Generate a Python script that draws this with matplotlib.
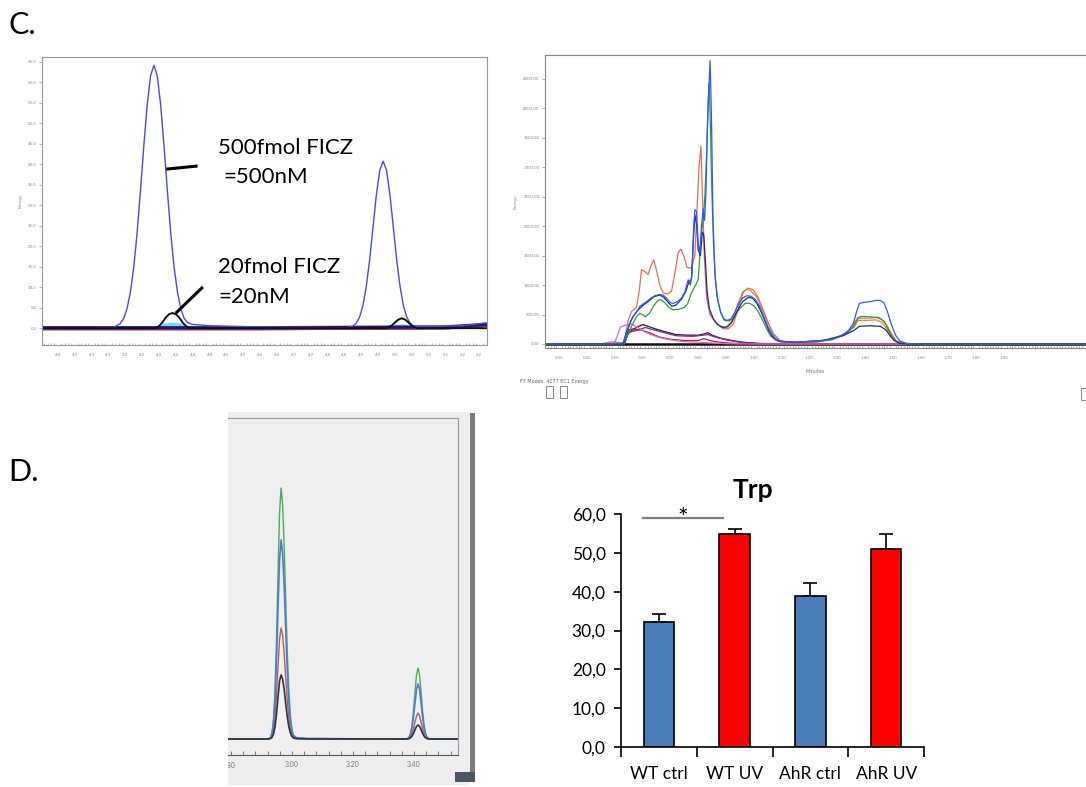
"""Composite chromatography figure: FICZ standards (C) and Trp levels (D)"""
import numpy as np
import matplotlib
matplotlib.use('Agg')
import matplotlib.pyplot as plt
from matplotlib.patches import Rectangle
from matplotlib.transforms import Bbox, TransformedBbox

W, H = 1086, 787

# ---- panel C, left: FICZ standards (minutes vs energy) ----
c1_500_x = [3.953, 4.10, 4.165, 4.185, 4.195, 4.205, 4.215, 4.225, 4.235, 4.245,
            4.255, 4.265, 4.275, 4.285, 4.295, 4.305, 4.315, 4.325, 4.335, 4.345,
            4.355, 4.365, 4.375, 4.385, 4.40, 4.45, 4.55, 4.70, 4.86, 4.875,
            4.885, 4.895, 4.905, 4.915, 4.925, 4.935, 4.945, 4.955, 4.965, 4.975,
            4.985, 4.995, 5.005, 5.015, 5.025, 5.035, 5.045, 5.055, 5.07, 5.20, 5.27]
c1_500_y = [0.0, 0.0, 0.2, 1.1, 2.3, 4.7, 8.7, 14.7, 23.1, 33.4,
            44.4, 54.4, 61.5, 64.1, 61.5, 54.4, 44.4, 33.4, 23.1, 14.7,
            8.7, 4.7, 2.3, 1.4, 0.9, 0.6, 0.4, 0.2, 0.1, 0.5,
            1.2, 2.7, 5.5, 10.2, 16.7, 24.7, 32.6, 38.5, 40.7, 38.5,
            32.6, 24.7, 16.7, 10.2, 5.5, 2.7, 1.2, 0.5, 0.3, 0.6, 1.3]
c1_20_x = [3.953, 4.29, 4.30, 4.31, 4.32, 4.33, 4.34, 4.35, 4.36, 4.37, 4.38, 4.39,
           4.975, 4.99, 5.00, 5.01, 5.02, 5.03, 5.04, 5.05, 5.065, 5.27]
c1_20_y = [0.0, 0.0, 0.5, 1.4, 2.6, 3.4, 3.7, 3.4, 2.6, 1.4, 0.5, 0.0,
           0.0, 0.6, 1.4, 2.1, 2.4, 2.1, 1.4, 0.6, 0.0, 0.0]
c1_cyan_x = [4.29, 4.31, 4.34, 4.37, 4.40, 4.98, 5.00, 5.03, 5.06]
c1_cyan_y = [0.0, 1.2, 1.5, 1.2, 0.0, 0.0, 1.0, 1.0, 0.0]
c1_base_x = [3.953, 4.60, 5.15, 5.27]
c1_base_y = [0.0, 0.0, 0.2, 0.8]
c1_yticks = [0, 5, 10, 15, 20, 25, 30, 35, 40, 45, 50, 55, 60, 65]
c1_xticks = [4.00, 4.05, 4.10, 4.15, 4.20, 4.25, 4.30, 4.35, 4.40, 4.45, 4.50,
             4.55, 4.60, 4.65, 4.70, 4.75, 4.80, 4.85, 4.90, 4.95, 5.00, 5.05,
             5.10, 5.15, 5.20, 5.25]
c1_xlabels = ['4.0', '4.0', '4.1', '4.1', '4.2', '4.2', '4.3', '4.3', '4.4', '4.4',
              '4.5', '4.5', '4.6', '4.6', '4.7', '4.7', '4.8', '4.8', '4.9', '4.9',
              '5.0', '5.0', '5.1', '5.1', '5.2', '5.2']

# ---- panel C, right: samples (minutes vs energy) ----
c2_red_x = [0.25, 0.446, 0.482, 0.50, 0.518, 0.533, 0.548, 0.56, 0.578, 0.588,
            0.596, 0.608, 0.62, 0.632, 0.64, 0.65, 0.662, 0.674, 0.692, 0.704,
            0.716, 0.728, 0.738, 0.748, 0.76, 0.776, 0.788, 0.796, 0.803, 0.81,
            0.815, 0.822, 0.83, 0.842, 0.866, 0.89, 0.908, 0.926, 0.944, 0.962,
            0.98, 0.998, 1.016, 1.034, 1.052, 1.07, 1.094, 1.13, 1.226, 1.286,
            1.322, 1.352, 1.37, 1.388, 1.418, 1.441, 1.459, 1.477, 1.495, 1.513,
            1.537, 1.585, 2.2]
c2_red_y = [0, 0, 30, 40, 10, 10, 400, 550, 620, 900,
            1260, 1230, 1180, 1350, 1430, 1250, 1000, 870, 850, 900,
            1200, 1550, 1610, 1500, 1300, 1290, 1500, 2300, 3000, 3360,
            2600, 1500, 800, 500, 350, 260, 260, 330, 600, 880,
            950, 920, 790, 580, 350, 180, 60, 20, 30, 90,
            160, 270, 420, 440, 440, 450, 420, 330, 180, 50,
            10, 0, 0]
c2_blue_x = [0.25, 0.45, 0.50, 0.53, 0.542, 0.555, 0.566, 0.58, 0.59, 0.602,
             0.615, 0.63, 0.645, 0.66, 0.674, 0.69, 0.70, 0.71, 0.725, 0.74,
             0.752, 0.764, 0.772, 0.778, 0.783, 0.788, 0.794, 0.80, 0.806, 0.812,
             0.818, 0.823, 0.828, 0.833, 0.838, 0.843, 0.848, 0.853, 0.86, 0.868,
             0.88, 0.893, 0.905, 0.918, 0.93, 0.945, 0.96, 0.975, 0.99, 1.005,
             1.02, 1.035, 1.05, 1.065, 1.08, 1.10, 1.15, 1.22, 1.28, 1.31,
             1.34, 1.358, 1.37, 1.38, 1.40, 1.42, 1.44, 1.455, 1.468, 1.48,
             1.495, 1.51, 1.525, 1.55, 1.60, 2.2]
c2_blue_y = [0, 0, 10, 20, 180, 350, 470, 550, 640, 680,
             720, 780, 820, 840, 830, 760, 700, 690, 720, 780,
             880, 1090, 1000, 1200, 1900, 2280, 2250, 1700, 1550, 2000,
             2300, 2100, 2600, 3600, 4300, 4810, 3800, 2200, 1200, 800,
             550, 420, 400, 430, 520, 680, 780, 820, 810, 760,
             650, 480, 300, 170, 80, 40, 30, 50, 80, 130,
             220, 350, 550, 690, 710, 720, 740, 740, 700, 560,
             330, 150, 50, 10, 0, 0]
c2_green_x = [0.25, 0.53, 0.542, 0.56, 0.578, 0.59, 0.60, 0.61, 0.625, 0.64,
              0.655, 0.665, 0.68, 0.695, 0.71, 0.73, 0.75, 0.762, 0.775, 0.785,
              0.794, 0.80, 0.806, 0.812, 0.818, 0.824, 0.83, 0.835, 0.839, 0.843,
              0.848, 0.855, 0.862, 0.87, 0.882, 0.895, 0.91, 0.925, 0.94, 0.955,
              0.97, 0.985, 1.0, 1.015, 1.03, 1.045, 1.06, 1.08, 1.10, 1.20,
              1.28, 1.33, 1.36, 1.375, 1.39, 1.42, 1.45, 1.47, 1.485, 1.50,
              1.52, 1.55, 2.2]
c2_green_y = [0, 0, 100, 300, 460, 520, 500, 460, 520, 650,
              740, 750, 700, 620, 580, 590, 620, 680, 860, 950,
              1030, 1100, 1500, 1900, 2100, 2500, 3200, 4000, 4440, 3900,
              2800, 1700, 1100, 750, 520, 400, 390, 430, 540, 630,
              690, 690, 650, 560, 420, 270, 140, 60, 30, 30,
              70, 160, 300, 450, 470, 460, 450, 380, 230, 100,
              20, 0, 0]
c2_navy_x = [0.25, 0.53, 0.542, 0.56, 0.58, 0.60, 0.62, 0.64, 0.66, 0.675,
             0.69, 0.705, 0.72, 0.74, 0.756, 0.766, 0.776, 0.782, 0.788, 0.795,
             0.80, 0.808, 0.815, 0.82, 0.826, 0.832, 0.84, 0.855, 0.87, 0.89,
             0.905, 0.92, 0.94, 0.96, 0.98, 0.995, 1.01, 1.025, 1.04, 1.055,
             1.07, 1.09, 1.15, 1.25, 1.32, 1.36, 1.38, 1.42, 1.455, 1.475,
             1.49, 1.505, 1.525, 1.56, 2.2]
c2_navy_y = [0, 0, 200, 420, 560, 650, 720, 800, 830, 800,
             720, 640, 660, 760, 900, 1050, 1100, 1700, 2200, 2000,
             1600, 1500, 1900, 1850, 1400, 900, 600, 420, 330, 280,
             290, 360, 560, 720, 790, 780, 700, 560, 390, 220,
             110, 50, 30, 60, 140, 230, 300, 310, 300, 240,
             140, 60, 10, 0, 0]
c2_orange_x = [0.88, 0.90, 0.92, 0.94, 0.96, 0.975, 0.99, 1.01, 1.03, 1.05,
               1.07, 1.09, 1.12, 1.25, 1.32, 1.36, 1.375, 1.40, 1.44, 1.46,
               1.48, 1.50, 1.52, 1.55, 2.2]
c2_orange_y = [290, 290, 380, 650, 880, 930, 900, 800, 600, 370,
               180, 60, 20, 60, 150, 280, 400, 400, 410, 370,
               250, 90, 20, 0, 0]
c2_pink_x = [0.25, 0.49, 0.50, 0.51, 0.52, 0.54, 0.56, 0.575, 0.59, 0.61,
             0.63, 0.66, 0.70, 0.75, 0.80, 0.84, 0.90, 1.0, 2.2]
c2_pink_y = [0, 0, 30, 150, 290, 320, 340, 300, 260, 200,
             160, 110, 70, 40, 30, 20, 5, 0, 0]
c2_maroon_x = [0.25, 0.53, 0.545, 0.56, 0.58, 0.60, 0.63, 0.66, 0.70, 0.75,
               0.80, 0.82, 0.835, 0.86, 0.90, 0.95, 1.0, 2.2]
c2_maroon_y = [0, 0, 150, 230, 250, 230, 180, 120, 80, 60,
               60, 90, 70, 40, 20, 5, 0, 0]
c2_purple_x = [0.25, 0.535, 0.55, 0.58, 0.61, 0.64, 0.68, 0.72, 0.78, 0.82,
               0.835, 0.86, 0.90, 0.95, 1.02, 1.08, 2.2]
c2_purple_y = [0, 0, 200, 230, 280, 240, 190, 140, 130, 150,
               160, 120, 70, 30, 5, 0, 0]
c2_black_x = [0.25, 0.535, 0.55, 0.57, 0.60, 0.62, 0.65, 0.68, 0.72, 0.76,
              0.80, 0.82, 0.835, 0.85, 0.88, 0.92, 0.96, 1.02, 1.08, 2.2]
c2_black_y = [0, 0, 240, 260, 330, 300, 250, 210, 160, 150,
              150, 170, 190, 150, 100, 60, 30, 10, 0, 0]
c2_yticks = [0, 500, 1000, 1500, 2000, 2500, 3000, 3500, 4000, 4500]
c2_xticks = [0.30, 0.40, 0.50, 0.60, 0.70, 0.80, 0.90, 1.00, 1.10, 1.20, 1.30,
             1.40, 1.50, 1.60, 1.70, 1.80, 1.90]

# ---- panel D, left: Trp chromatogram (minutes vs intensity, shared grid) ----
d1_x = [2.79, 2.92, 2.929, 2.934, 2.939, 2.944, 2.949, 2.954, 2.959, 2.964,
        2.969, 2.974, 2.979, 2.984, 2.989, 2.994, 2.999, 3.004, 3.014, 3.05,
        3.37, 3.378, 3.383, 3.388, 3.393, 3.398, 3.403, 3.408, 3.413, 3.418,
        3.423, 3.428, 3.433, 3.438, 3.443, 3.448, 3.456, 3.544]
d1_green = [0, 0, 1.5, 6, 19, 48, 99, 166, 226, 251,
            235, 195, 141, 90, 51, 25, 11, 4, 1.5, 0.5,
            0, 0.4, 1.7, 5.4, 13.6, 28, 47, 64, 71, 64,
            47, 28, 13.6, 5.4, 1.7, 0.4, 0, 0]
d1_blue = [0, 0, 1.2, 4.8, 15, 38, 79, 132, 179, 199,
           186, 155, 112, 71, 40, 20, 9, 3, 1.2, 0.4,
           0, 0.3, 1.3, 4.2, 10.5, 22, 36, 50, 55, 50,
           36, 22, 10.5, 4.2, 1.3, 0.3, 0, 0]
d1_brown = [0, 0, 0.7, 2.7, 8.4, 21, 44, 73, 100, 111,
            104, 86, 62, 40, 23, 11, 5, 1.8, 0.6, 0.2,
            0, 0.1, 0.6, 2, 5, 10, 17, 23, 26, 23,
            17, 10, 5, 2, 0.6, 0.1, 0, 0]
d1_black = [0, 0, 0.4, 1.5, 4.8, 12, 25, 42, 58, 64,
            60, 50, 36, 23, 13, 6.4, 2.8, 1, 0.3, 0.1,
            0, 0.1, 0.3, 1.1, 2.7, 5.5, 9.3, 12.6, 14, 12.6,
            9.3, 5.5, 2.7, 1.1, 0.3, 0.1, 0, 0]
d1_xticks = [3.00, 3.20, 3.40]

# ---- panel D, right: Trp bar chart ----
trp_groups = ['WT ctrl', 'WT UV', 'AhR ctrl', 'AhR UV']
trp_mean = [32.1, 54.9, 38.9, 51.1]
trp_err = [2.2, 1.2, 3.4, 3.8]
trp_colors = ['#4a7ebb', '#ff0000', '#4a7ebb', '#ff0000']
trp_yticks = [0, 10, 20, 30, 40, 50, 60]
trp_ylabels = ['0,0', '10,0', '20,0', '30,0', '40,0', '50,0', '60,0']


def px_axes(fig, left, top, right, bottom):
    """Adds an axes given by its pixel box on the 1086x787 canvas."""
    rect = [left / W, 1 - bottom / H, (right - left) / W, (bottom - top) / H]
    return fig.add_axes(rect)


def fx(px):
    return px / W


def fy(py):
    return 1 - py / H


def px_rect(fig, left, top, right, bottom, **kw):
    """Adds a rectangle given by its pixel box as a figure-level patch."""
    rect = Rectangle((fx(left), fy(bottom)), (right - left) / W,
                     (bottom - top) / H, transform=fig.transFigure, **kw)
    fig.patches.append(rect)
    return rect


def chrom_style(ax, color='#999999'):
    """Thin grey frame and tiny grey labels, like the instrument software."""
    for spine in ax.spines.values():
        spine.set_color(color)
        spine.set_linewidth(0.8)
    ax.tick_params(which='both', colors=color, labelsize=3.2, length=2,
                   width=0.5, pad=2, labelcolor='#8a8a8a')


plt.rcParams['font.family'] = ['Lato', 'DejaVu Sans']
fig = plt.figure(figsize=(10.86, 7.87), dpi=100)

fig.text(fx(8), fy(25), 'C.', fontsize=22, va='center', ha='left')
fig.text(fx(8), fy(472), 'D.', fontsize=22, va='center', ha='left')

# panel C left
ax = px_axes(fig, 42, 57, 487, 345)
ax.plot(c1_base_x, c1_base_y, color='#1c1c78', lw=3.0)
ax.plot(c1_base_x, [v - 0.4 for v in c1_base_y], color='#c03060', lw=0.6)
ax.fill_between(c1_cyan_x, 0, c1_cyan_y, color='#55ccee', alpha=0.8, lw=0)
ax.plot(c1_500_x, c1_500_y, color='#4a4ae0', lw=1.0)
ax.plot(c1_20_x, c1_20_y, color='#111111', lw=1.4)
ax.set_xlim(3.953, 5.273)
ax.set_ylim(-4.1, 66.1)
ax.set_yticks(c1_yticks)
ax.set_yticklabels([f'{v:.1f}' for v in c1_yticks])
ax.set_xticks(c1_xticks)
ax.set_xticklabels(c1_xlabels)
ax.set_xticks(np.arange(3.96, 5.27, 0.01), minor=True)
chrom_style(ax)
ax.tick_params(axis='x', which='minor', direction='in', length=1.5)
ax.tick_params(axis='x', which='major', length=0, pad=6)
ax.set_ylabel('Energy', fontsize=3, color='#888888', labelpad=4,
              family='DejaVu Sans')
ax.plot([4.326, 4.41], [38.8, 39.5], color='black', lw=2.2)
ax.plot([4.353, 4.427], [3.9, 9.8], color='black', lw=2.2)
ax.text(4.475, 43.9, '500fmol FICZ', fontsize=16, va='center')
ax.text(4.49, 36.8, '=500nM', fontsize=16, va='center')
ax.text(4.475, 14.9, '20fmol FICZ', fontsize=16, va='center')
ax.text(4.475, 7.6, '=20nM', fontsize=16, va='center')

# panel C right
ax = px_axes(fig, 545, 55, 1086, 348)
ax.plot([0.25, 2.2], [0, 0], color='#111111', lw=1.8)
traces = [(c2_black_x, c2_black_y, '#222222'),
          (c2_purple_x, c2_purple_y, '#7a2a9a'),
          (c2_maroon_x, c2_maroon_y, '#b02030'),
          (c2_pink_x, c2_pink_y, '#e860d8'),
          (c2_orange_x, c2_orange_y, '#e08a30'),
          (c2_red_x, c2_red_y, '#ea6a5a'),
          (c2_green_x, c2_green_y, '#2e9e3a'),
          (c2_navy_x, c2_navy_y, '#1d2b8c'),
          (c2_blue_x, c2_blue_y, '#3358f0')]
for xs, ys, col in traces:
    ax.plot(xs, ys, color=col, lw=0.9)
ax.set_xlim(0.249, 2.195)
ax.set_ylim(-68, 4907)
ax.set_yticks(c2_yticks)
ax.set_yticklabels([f'{v:.2f}' for v in c2_yticks])
ax.set_xticks(c2_xticks)
ax.set_xticklabels([f'{v:.2f}' for v in c2_xticks])
ax.set_xticks(np.arange(0.26, 2.19, 0.01), minor=True)
chrom_style(ax, '#888888')
ax.spines['right'].set_visible(False)
ax.tick_params(axis='x', which='minor', direction='in', length=1.5)
ax.tick_params(axis='x', which='major', length=0, pad=6)
ax.set_xlabel('Minutes', fontsize=3.5, color='#777777', labelpad=6,
              family='DejaVu Sans')
ax.set_ylabel('Energy', fontsize=3, color='#888888', labelpad=4,
              family='DejaVu Sans')
fig.text(fx(520), fy(381), 'F7 Modes, 4077 EC1 Energy', fontsize=3.5,
         color='#666666', va='center', family='DejaVu Sans')
for left in (546, 560):
    px_rect(fig, left, 386, left + 7, 398, fill=False, edgecolor='#777777',
            lw=0.6)
px_rect(fig, 1081, 388, 1087, 400, fill=False, edgecolor='#777777', lw=0.6)

# panel D left: grey instrument window behind the axes
px_rect(fig, 228, 412, 470, 785, facecolor='#eeeeee', edgecolor='none',
        zorder=-1)
ax = px_axes(fig, 228, 418, 458, 755)
ax.set_facecolor('#efefef')
ax.plot(d1_x, d1_brown, color='#b06058', lw=1.0)
ax.plot(d1_x, d1_green, color='#4cae50', lw=1.0)
ax.plot(d1_x, d1_blue, color='#5577d8', lw=1.2)
ax.plot(d1_x, d1_black, color='#333333', lw=1.2)
ax.set_xlim(2.79, 3.544)
ax.set_ylim(-16, 321)
ax.set_yticks([])
ax.set_xticks(d1_xticks)
ax.set_xticklabels([f'{v:.2f}' for v in d1_xticks])
ax.set_xticks(np.arange(2.80, 3.54, 0.04), minor=True)
for side in ('top', 'right'):
    ax.spines[side].set_color('#9a9a9a')
ax.spines['left'].set_visible(False)
ax.spines['bottom'].set_color('#555555')
ax.tick_params(axis='x', which='both', direction='in', length=3, width=0.6,
               colors='#666666', labelsize=5, pad=4, labelcolor='#777777')
lab = fig.text(fx(229), fy(765), '2.80', fontsize=5, color='#777777',
               ha='center', va='center')
lab.set_clip_box(TransformedBbox(Bbox([[fx(228), 0], [fx(470), 1]]),
                                 fig.transFigure))
lab.set_clip_on(True)
px_rect(fig, 470, 413, 475, 773, facecolor='#7c7c7c', edgecolor='none')
px_rect(fig, 455, 772, 475, 782, facecolor='#4c5660', edgecolor='none')

# panel D right
ax = px_axes(fig, 621, 514, 924, 747)
pos = np.arange(len(trp_groups))
ax.bar(pos, trp_mean, width=0.4, color=trp_colors, edgecolor='black',
       lw=1.2, zorder=2)
ax.errorbar(pos, trp_mean, yerr=[[0] * len(trp_err), trp_err], fmt='none',
            ecolor='black', elinewidth=1.2, capsize=5, capthick=1.2, zorder=1)
ax.set_xlim(-0.5, 3.5)
ax.set_ylim(0, 60)
ax.spines['top'].set_visible(False)
ax.spines['right'].set_visible(False)
for side in ('left', 'bottom'):
    ax.spines[side].set_linewidth(1.2)
ax.set_yticks(trp_yticks)
ax.set_yticklabels(trp_ylabels)
ax.set_xticks(pos)
ax.set_xticklabels(trp_groups)
ax.set_xticks(np.arange(-0.5, 3.6, 1.0), minor=True)
ax.tick_params(axis='y', length=5, width=1.2, labelsize=12.5, pad=6)
ax.tick_params(axis='x', which='major', length=0, labelsize=12.5, pad=14)
ax.tick_params(axis='x', which='minor', length=7, width=1.2)
ax.plot([-0.21, 0.85], [58.9, 58.9], color='#808080', lw=1.6, clip_on=False)
ax.text(0.31, 58.9, '*', fontsize=18, ha='center', va='center')
fig.text(fx(753), fy(490), 'Trp', fontsize=19, fontweight='bold',
         ha='center', va='center')

fig.savefig('out.png', dpi=100)
